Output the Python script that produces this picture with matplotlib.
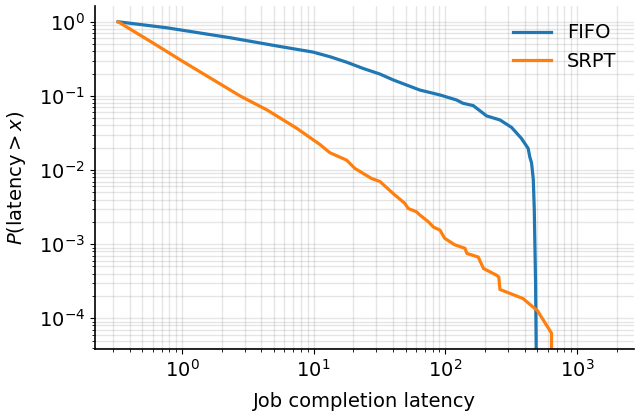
import matplotlib
matplotlib.use("Agg")
import matplotlib.pyplot as plt

# survival curves
fifo_x = [0.327, 0.766, 2.31, 5.55, 9.9, 13.5, 17.8, 23.7, 31.9, 40.3, 64.0, 91.0, 122, 136,
          163, 206, 260, 318, 378, 426, 438, 452, 466, 474, 485, 494]
fifo_y = [1.0, 0.83, 0.61, 0.464, 0.39, 0.335, 0.285, 0.235, 0.197, 0.164, 0.12, 0.103, 0.088, 0.0796,
          0.074, 0.0537, 0.0474, 0.0377, 0.0268, 0.0196, 0.0151, 0.0125, 0.0075, 0.003, 0.0003, 1e-5]

srpt_x = [0.327, 0.605, 1.02, 2.76, 4.4, 7.44, 11.2, 13.3, 17.8, 20.6, 27.5, 31.9, 40.3, 49.3,
          52.3, 60.5, 64.0, 74.5, 81.3, 91.0, 99.0, 118, 141, 146, 178, 195, 246, 255, 260,
          389, 502, 641, 641]
srpt_y = [1.0, 0.515, 0.29, 0.1, 0.065, 0.0366, 0.022, 0.0171, 0.0136, 0.0105, 0.0077, 0.0070,
          0.0048, 0.00355, 0.00303, 0.00273, 0.00248, 0.0020, 0.0017, 0.00155, 0.0012, 0.00098,
          0.00088, 0.00075, 0.00067, 0.00047, 0.00038, 0.00036, 0.000245, 0.000185, 0.000126,
          6.3e-5, 1e-5]


def main():
    fig = plt.figure(figsize=(6.41, 4.17), dpi=100)
    ax = fig.add_axes([0.148, 0.163, 0.841, 0.823])

    ax.plot(fifo_x, fifo_y, color="#1f77b4", lw=2.3, label="FIFO")
    ax.plot(srpt_x, srpt_y, color="#ff7f0e", lw=2.3, label="SRPT")

    ax.set_xscale("log")
    ax.set_yscale("log")
    ax.set_xlim(0.218, 2710)
    ax.set_ylim(3.85e-5, 1.64)

    ax.grid(True, which="both", color="gray", alpha=0.2, lw=1)
    ax.spines["top"].set_visible(False)
    ax.spines["right"].set_visible(False)
    ax.spines["left"].set_linewidth(1.2)
    ax.spines["bottom"].set_linewidth(1.2)
    ax.tick_params(labelsize=14)

    ax.set_xlabel("Job completion latency", fontsize=14, labelpad=8)
    ax.set_ylabel(r"$P(\mathrm{latency} > x)$", fontsize=14, labelpad=8)
    ax.legend(loc="upper right", frameon=False, fontsize=14)

    fig.savefig("out.png", dpi=100)


if __name__ == '__main__':
    main()
